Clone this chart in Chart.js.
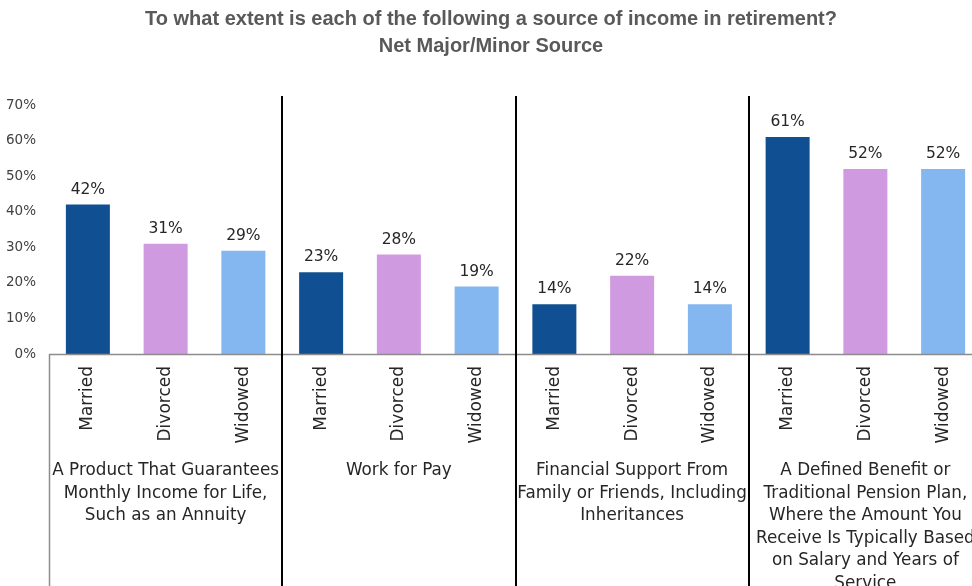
<!DOCTYPE html>
<html>
<head>
<meta charset="utf-8">
<script src="https://cdn.jsdelivr.net/npm/chart.js@4.4.1/dist/chart.umd.min.js"></script>
<style>
  html, body { margin: 0; padding: 0; background: #ffffff; overflow: hidden; }
  #wrap { width: 972px; height: 586px; overflow: hidden; position: relative; }
  #box { width: 982px; height: 586px; position: absolute; left: 0; top: 0; }
</style>
</head>
<body>
<div id="wrap"><div id="box"><canvas id="c"></canvas></div></div>
<script>
const titleLines = ["To what extent is each of the following a source of income in retirement?", "Net Major/Minor Source"];
const subCategories = ["Married", "Divorced", "Widowed"];
const groups = [
  ["A Product That Guarantees", "Monthly Income for Life,", "Such as an Annuity"],
  ["Work for Pay"],
  ["Financial Support From", "Family or Friends, Including", "Inheritances"],
  ["A Defined Benefit or", "Traditional Pension Plan,", "Where the Amount You", "Receive Is Typically Based", "on Salary and Years of", "Service"]
];
const annuity = [42, 31, 29];
const workForPay = [23, 28, 19];
const familySupport = [14, 22, 14];
const pension = [61, 52, 52];
const yTicks = [0, 10, 20, 30, 40, 50, 60, 70];
const seriesColors = ["#114F93", "#CF9ADF", "#84B7EF"];

const labels = [];
const values = [];
const colors = [];
[annuity, workForPay, familySupport, pension].forEach(g => {
  g.forEach((v, i) => { labels.push(subCategories[i]); values.push(v); colors.push(seriesColors[i]); });
});

const FONT = "'DejaVu Sans', sans-serif";

const decor = {
  id: 'decor',
  afterDatasetsDraw(chart) {
    const ctx = chart.ctx;
    const x = chart.scales.x;
    const area = chart.chartArea;
    const H = chart.height;
    const meta = chart.getDatasetMeta(0);
    ctx.save();
    // data labels
    ctx.font = "15.5px " + FONT;
    ctx.fillStyle = "#262626";
    ctx.textAlign = "center";
    ctx.textBaseline = "bottom";
    meta.data.forEach((bar, i) => {
      ctx.fillText(values[i] + "%", bar.x, bar.y - 7);
    });
    // axis line
    ctx.strokeStyle = "#8C8C8C";
    ctx.lineWidth = 1.5;
    ctx.beginPath();
    ctx.moveTo(area.left, area.bottom + 0.5);
    ctx.lineTo(chart.width, area.bottom + 0.5);
    ctx.stroke();
    // left border below axis
    ctx.beginPath();
    ctx.moveTo(area.left + 0.5, area.bottom);
    ctx.lineTo(area.left + 0.5, H);
    ctx.stroke();
    // group separators
    ctx.strokeStyle = "#000000";
    ctx.lineWidth = 2;
    for (let g = 1; g < groups.length; g++) {
      const i = g * 3;
      const sx = Math.round((x.getPixelForValue(i - 1) + x.getPixelForValue(i)) / 2);
      ctx.beginPath();
      ctx.moveTo(sx, 96);
      ctx.lineTo(sx, H);
      ctx.stroke();
    }
    // group labels
    ctx.font = "16.8px " + FONT;
    ctx.fillStyle = "#262626";
    ctx.textBaseline = "middle";
    groups.forEach((lines, g) => {
      const cx = x.getPixelForValue(g * 3 + 1);
      lines.forEach((ln, k) => {
        ctx.fillText(ln, cx, 471 + k * 22.5);
      });
    });
    ctx.restore();
  }
};

new Chart(document.getElementById('c'), {
  type: 'bar',
  data: {
    labels: labels,
    datasets: [{
      data: values,
      backgroundColor: colors,
      borderWidth: 0,
      barPercentage: 0.566,
      categoryPercentage: 1.0
    }]
  },
  options: {
    responsive: true,
    maintainAspectRatio: false,
    animation: false,
    devicePixelRatio: 1,
    layout: { padding: { left: 0, right: 0, top: 0, bottom: 0 } },
    plugins: {
      legend: { display: false },
      tooltip: { enabled: false },
      title: {
        display: true,
        text: titleLines,
        color: "#595959",
        font: { family: "'Liberation Sans', Arial, sans-serif", size: 20, weight: 'bold', lineHeight: 1.35 },
        padding: { top: 6, bottom: 45 }
      }
    },
    scales: {
      x: {
        grid: { display: false, drawTicks: false },
        border: { display: false },
        ticks: {
          minRotation: 90, maxRotation: 90,
          autoSkip: false,
          padding: 12,
          color: "#262626",
          font: { family: FONT, size: 17 }
        },
        afterFit(scale) { scale.height = 232; }
      },
      y: {
        min: 0, max: 70,
        grid: { display: false, drawTicks: false },
        border: { display: false },
        afterBuildTicks(scale) { scale.ticks = yTicks.map(v => ({ value: v })); },
        ticks: {
          padding: 13,
          color: "#404040",
          font: { family: FONT, size: 13.5 },
          callback: v => v + "%"
        },
        afterFit(scale) { scale.width = 49; }
      }
    }
  },
  plugins: [decor]
});
</script>
</body>
</html>
